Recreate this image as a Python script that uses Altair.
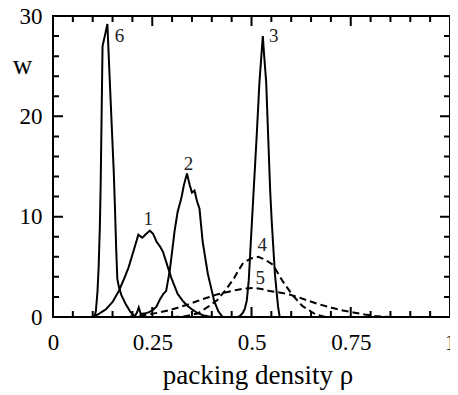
import altair as alt
import pandas as pd

# ---- curve data ----
x1 = [0.10, 0.115, 0.133, 0.15, 0.166, 0.18, 0.19, 0.20, 0.215, 0.225, 0.235, 0.244, 0.252, 0.261, 0.270, 0.277, 0.285, 0.298, 0.314, 0.327, 0.339, 0.352, 0.364, 0.38, 0.40]
y1 = [0, 0.3, 0.76, 1.5, 2.6, 3.9, 4.9, 6.2, 8.2, 7.9, 8.3, 8.6, 8.3, 7.5, 7.0, 6.5, 5.5, 3.9, 2.3, 1.6, 1.1, 0.7, 0.4, 0.15, 0]

x2 = [0.19, 0.205, 0.211, 0.216, 0.221, 0.23, 0.24, 0.25, 0.26, 0.27, 0.278, 0.285, 0.294, 0.300, 0.306, 0.314, 0.323, 0.330, 0.3375, 0.344, 0.350, 0.3565, 0.363, 0.369, 0.377, 0.390, 0.406, 0.416, 0.427]
y2 = [0, 0.05, 0.4, 0.95, 0.3, 0.35, 0.45, 0.65, 1.0, 1.8, 2.3, 2.6, 4.6, 6.5, 8.5, 10.5, 11.8, 13.2, 14.3, 13.2, 12.4, 12.6, 11.5, 10.8, 7.5, 4.3, 1.6, 0.6, 0]

x3 = [0.465, 0.471, 0.478, 0.483, 0.488, 0.493, 0.499, 0.506, 0.513, 0.520, 0.5285, 0.532, 0.537, 0.542, 0.547, 0.551, 0.555, 0.559, 0.563, 0.567, 0.571]
y3 = [0, 0.1, 0.4, 0.8, 1.6, 3.6, 8.0, 13.0, 18.0, 23.4, 28.0, 26.0, 23.4, 18.0, 12.6, 9.5, 6.9, 4.3, 2.6, 1.0, 0]

x4 = [0.30, 0.33, 0.364, 0.39, 0.414, 0.435, 0.455, 0.465, 0.479, 0.50, 0.517, 0.535, 0.554, 0.578, 0.603, 0.628, 0.661, 0.686]
y4 = [0, 0.05, 0.35, 1.0, 1.7, 2.7, 3.8, 4.5, 5.4, 5.85, 6.0, 5.7, 5.2, 3.6, 2.2, 1.1, 0.27, 0]

x5 = [0.19, 0.215, 0.24, 0.265, 0.29, 0.314, 0.34, 0.364, 0.39, 0.413, 0.44, 0.463, 0.485, 0.504, 0.525, 0.545, 0.57, 0.595, 0.62, 0.644, 0.672, 0.702, 0.73, 0.76, 0.785, 0.81, 0.85]
y5 = [0, 0.1, 0.25, 0.43, 0.65, 0.92, 1.25, 1.6, 1.95, 2.25, 2.5, 2.7, 2.85, 2.9, 2.8, 2.6, 2.45, 2.25, 1.95, 1.6, 1.25, 0.92, 0.65, 0.43, 0.25, 0.1, 0]

x6 = [0.09, 0.104, 0.108, 0.112, 0.115, 0.118, 0.120, 0.1248, 0.131, 0.137, 0.142, 0.148, 0.153, 0.156, 0.159, 0.162, 0.166, 0.172, 0.183, 0.195, 0.205]
y6 = [0, 0, 0.6, 2.5, 5.0, 9.0, 13.0, 27.0, 28.1, 29.2, 24.5, 19.0, 14.5, 11.0, 7.0, 3.8, 3.0, 2.2, 1.3, 0.5, 0.1]

curve_names = ["1", "2", "3", "4", "5", "6"]
curve_styles = ["solid", "solid", "solid", "dashed", "dashed", "solid"]
curve_x = [x1, x2, x3, x4, x5, x6]
curve_y = [y1, y2, y3, y4, y5, y6]

# curve labels
lab_text = ["6", "3", "2", "1", "4", "5"]
lab_x = [0.1675, 0.556, 0.341, 0.240, 0.527, 0.522]
lab_y = [28.0, 28.0, 15.2, 9.75, 7.15, 3.85]

# axis ticks
x_labels = [0, 0.25, 0.5, 0.75, 1]
x_minor = [0.05, 0.1, 0.15, 0.2, 0.3, 0.35, 0.4, 0.45, 0.55, 0.6, 0.65, 0.7, 0.8, 0.85, 0.9, 0.95]
y_labels = [0, 10, 20, 30]
y_minor = [2, 4, 6, 8, 12, 14, 16, 18, 22, 24, 26, 28]

X_MIN, X_MAX, Y_MIN, Y_MAX = 0, 1, 0, 30
W, H = 397, 301
MAJ, MIN = 10, 6            # tick lengths in pixels
FONT = "Liberation Serif"

rows = []
for name, sty, xs, ys in zip(curve_names, curve_styles, curve_x, curve_y):
    for i, (a, b) in enumerate(zip(xs, ys)):
        rows.append({"curve": name, "style": sty, "rho": a, "w": b, "i": i})

# inward frame ticks: short two-point segments on every edge, placed
# at the tick values through the same scales as the curves
yu = (Y_MAX - Y_MIN) / H    # data units per pixel
xu = (X_MAX - X_MIN) / W
k = 0
def seg(p0, p1):
    global k
    k += 1
    for i, (a, b) in enumerate((p0, p1)):
        rows.append({"curve": f"tick{k}", "style": "solid", "rho": a, "w": b, "i": i})

for vals, ln in ((x_labels, MAJ), (x_minor, MIN)):
    for v in vals:
        seg((v, Y_MIN), (v, Y_MIN + ln * yu))
        seg((v, Y_MAX), (v, Y_MAX - ln * yu))
for vals, ln in ((y_labels, MAJ), (y_minor, MIN)):
    for v in vals:
        seg((X_MIN, v), (X_MIN + ln * xu, v))
        seg((X_MAX, v), (X_MAX - ln * xu, v))

df = pd.DataFrame(rows)

xscale = alt.Scale(domain=[X_MIN, X_MAX], nice=False, zero=False)
yscale = alt.Scale(domain=[Y_MIN, Y_MAX], nice=False, zero=False)

lines = alt.Chart(df).mark_line(color="black", strokeWidth=2).encode(
    x=alt.X("rho:Q", scale=xscale,
            axis=alt.Axis(orient="bottom", values=x_labels,
                          labelExpr="format(datum.value, '~g')",
                          ticks=False, tickSize=0,
                          domain=False, grid=False, labelFlush=False,
                          labelPadding=14, labelFontSize=23, labelColor="black",
                          title="packing density ρ", titleFontSize=27,
                          titleFontWeight="normal", titleColor="black",
                          titleX=204.5, titleY=66, titleAlign="center",
                          titleBaseline="alphabetic")),
    y=alt.Y("w:Q", scale=yscale,
            axis=alt.Axis(orient="left", values=y_labels, ticks=False, tickSize=0,
                          domain=False, grid=False, labelPadding=11,
                          labelFontSize=23, labelColor="black", title="w",
                          titleAngle=0, titleFontSize=27, titleFontWeight="normal",
                          titleColor="black", titleX=-31, titleY=57,
                          titleAlign="center", titleBaseline="alphabetic")),
    detail="curve:N",
    order="i:Q",
    strokeDash=alt.StrokeDash("style:N",
                              scale=alt.Scale(domain=["solid", "dashed"],
                                              range=[[1, 0], [7, 4]]),
                              legend=None),
)

labels = alt.Chart(pd.DataFrame({"lab": lab_text, "lx": lab_x, "ly": lab_y})).mark_text(
    font=FONT, fontSize=19, color="#222"
).encode(
    x=alt.X("lx:Q", scale=xscale),
    y=alt.Y("ly:Q", scale=yscale),
    text="lab:N",
)

chart = alt.layer(lines, labels).properties(
    width=W, height=H,
    autosize=alt.AutoSizeParams(type="none"),
    padding={"left": 45, "top": 8, "right": 0, "bottom": 78},
).configure(
    font=FONT,
).configure_view(
    stroke="black", strokeWidth=2,
).configure_axis(
    labelFont=FONT, titleFont=FONT,
)

chart.save("out.html", embed_options={"renderer": "svg", "actions": False})
